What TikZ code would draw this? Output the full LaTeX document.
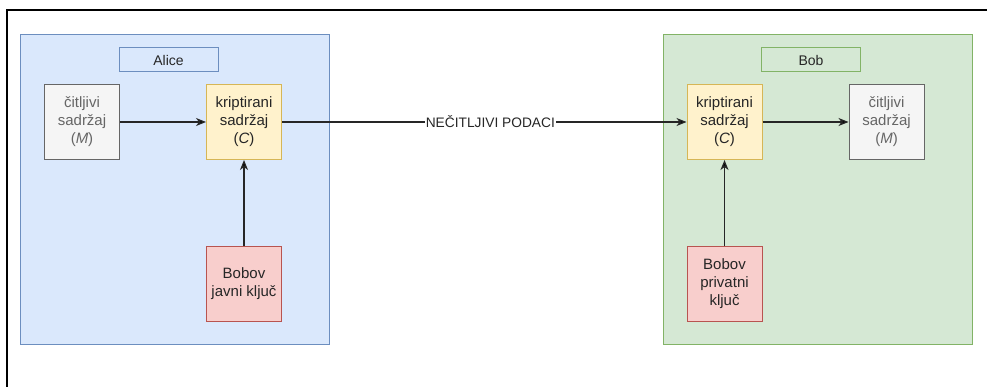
\documentclass[tikz,border=0pt]{standalone}
\usepackage{fontspec}
\setmainfont{Liberation Sans}
\usetikzlibrary{arrows.meta,positioning}
\definecolor{grayfill}{HTML}{F5F5F5}
\definecolor{graydraw}{HTML}{666666}
\definecolor{yellowfill}{HTML}{FFF2CC}
\definecolor{yellowdraw}{HTML}{D6B656}
\definecolor{redfill}{HTML}{F8CECC}
\definecolor{reddraw}{HTML}{B85450}
\definecolor{bluefill}{HTML}{DAE8FC}
\definecolor{bluedraw}{HTML}{6C8EBF}
\definecolor{greenfill}{HTML}{D5E8D4}
\definecolor{greendraw}{HTML}{82B366}
\tikzset{>={Stealth[length=10pt,width=8pt,inset=3pt]}}
\tikzset{main node/.style={draw,line width=1pt,minimum size=75pt,inner sep=0pt,align=center,
            text=black!85,font=\fontsize{15}{18}\selectfont},
         plain node/.style={main node,fill=grayfill,draw=graydraw,text=graydraw},
         enc node/.style={main node,fill=yellowfill,draw=yellowdraw},
         key node/.style={main node,fill=redfill,draw=reddraw},
         group node/.style={draw,line width=1pt,minimum width=309pt,minimum height=309pt},
         title node/.style={draw,line width=1pt,minimum width=99pt,minimum height=24pt,inner sep=0pt,
            text=black!85,font=\fontsize{14}{16}\selectfont},
            }

\begin{document}
\begin{tikzpicture}[x=1pt,y=-1pt]
    \useasboundingbox (0,0) rectangle (987,387);
    \draw[line width=1.6pt] (7,387) -- (7,10) -- (987,10);

    \node[group node,fill=bluefill,draw=bluedraw] (alice) at (174.5,189.5) {};
    \node[group node,fill=greenfill,draw=greendraw] (bob) at (817.5,189.5) {};
    \node[title node,draw=bluedraw] (alicename) at (168.5,60) {Alice};
    \node[title node,draw=greendraw] (bobname) at (811,60) {Bob};

    \node[plain node] (m1) at (82,122) {čitljivi\\sadržaj\\(\textit{M})};
    \node[enc node] (c1) [right = 86pt of m1] {kriptirani\\sadržaj\\(\textit{C})};
    \node[key node] (k1) [below = 86pt of c1] {Bobov\\javni ključ};

    \node[enc node] (c2) at (724.5,122) {kriptirani\\sadržaj\\(\textit{C})};
    \node[plain node] (m2) [right = 86pt of c2] {čitljivi\\sadržaj\\(\textit{M})};
    \node[key node] (k2) [below = 86pt of c2] {Bobov\\privatni\\ključ};

    \path[draw,line width=1.2pt,draw=black!85,->]
    (m1) edge node {} (c1)
    (k1) edge node {} (c1)
    (c1) edge node[pos=0.515,fill=white,inner sep=1pt,text=black!85,
        font=\fontsize{13.75}{16}\selectfont] {NEČITLJIVI PODACI} (c2)
    (k2) edge node {} (c2)
    (c2) edge node {} (m2);

\end{tikzpicture}
\end{document}
